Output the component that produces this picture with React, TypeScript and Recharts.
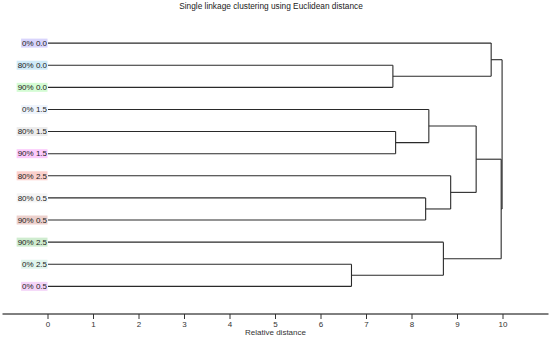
import React from 'react';
import { ComposedChart, XAxis, YAxis, Scatter, ReferenceLine } from 'recharts';

const leafLabels = ['0% 0.0', '80% 0.0', '90% 0.0', '0% 1.5', '80% 1.5', '90% 1.5', '80% 2.5', '80% 0.5', '90% 0.5', '90% 2.5', '0% 2.5', '0% 0.5'];
const leafColors = ['#d8d4fc', '#cfeaf8', '#d4fcd4', '#eef4fc', '#ececec', '#fccafc', '#fcd0cc', '#f4f4f4', '#ecd0cc', '#cfeccf', '#e0f4ec', '#f4d4f8'];
// merges: [left node, right node], new node ids start at 12
const mergeLeft = [1, 0, 4, 3, 7, 6, 15, 10, 9, 18, 13];
const mergeRight = [2, 12, 5, 14, 8, 16, 17, 11, 19, 20, 21];
const mergeHeights = [7.58, 9.74, 7.64, 8.37, 8.3, 8.85, 9.41, 6.67, 8.69, 9.96, 9.98];
const xTicks = [0, 1, 2, 3, 4, 5, 6, 7, 8, 9, 10];

const nodeY: number[] = leafLabels.map((_, i) => i);
const nodeH: number[] = leafLabels.map(() => 0);
type Seg = { x1: number; y1: number; x2: number; y2: number };
const segs: Seg[] = [];
mergeLeft.forEach((l, k) => {
  const r = mergeRight[k];
  const h = mergeHeights[k];
  segs.push({ x1: nodeH[l], y1: nodeY[l], x2: h, y2: nodeY[l] });
  segs.push({ x1: nodeH[r], y1: nodeY[r], x2: h, y2: nodeY[r] });
  segs.push({ x1: h, y1: nodeY[l], x2: h, y2: nodeY[r] });
  nodeY.push((nodeY[l] + nodeY[r]) / 2);
  nodeH.push(h);
});

const leafData = leafLabels.map((label, i) => ({ x: 0, y: i, label, color: leafColors[i] }));

const FS = 8;
const cw: Record<string, number> = { '%': 0.889, ' ': 0.278, '.': 0.278 };
const textW = (s: string) => s.split('').reduce((a, c) => a + (cw[c] ?? 0.556), 0) * FS;

const LeafLabel = (props: any) => {
  const { cx, cy, payload } = props;
  const w = textW(payload.label);
  const right = cx - 1;
  return (
    <g>
      <rect x={right - w - 1} y={cy - 4.5} width={w + 1.5} height={9} fill={payload.color} />
      <text x={right} y={cy} dy="0.35em" textAnchor="end" fontSize={FS} fontFamily="'Liberation Sans', Arial, sans-serif" fill="#222">
        {payload.label}
      </text>
    </g>
  );
};

export default function App() {
  return (
    <div style={{ position: 'absolute', left: 0, top: 0, width: 550, height: 338, background: '#fff' }}>
      <div style={{ position: 'absolute', left: 0, top: 1, width: 542, textAlign: 'center', fontFamily: "'Liberation Sans', Arial, sans-serif", fontSize: 8.3, lineHeight: '10px', color: '#222' }}>
        Single linkage clustering using Euclidean distance
      </div>
      <ComposedChart width={550} height={338} margin={{ top: 21, right: 1.5, left: 2.5, bottom: 0 }}>
        <XAxis
          type="number"
          dataKey="x"
          domain={[-1, 11]}
          ticks={xTicks}
          allowDataOverflow
          tickSize={5}
          axisLine={{ stroke: '#000' }}
          tickLine={{ stroke: '#333' }}
          tick={{ fontSize: 8, fill: '#333', fontFamily: "'Liberation Sans', Arial, sans-serif" }}
          height={24}
          label={{ value: 'Relative distance', position: 'insideBottom', offset: 3, fontSize: 8, fill: '#333', fontFamily: "'Liberation Sans', Arial, sans-serif" }}
        />
        <YAxis type="number" dataKey="y" domain={[-1, 12.25]} reversed hide allowDataOverflow />
        {segs.map((s, i) => (
          <ReferenceLine
            key={i}
            segment={[{ x: s.x1, y: s.y1 }, { x: s.x2, y: s.y2 }]}
            stroke="#2a2a2a"
            strokeWidth={1.1}
            ifOverflow="visible"
          />
        ))}
        <Scatter data={leafData} shape={LeafLabel} isAnimationActive={false} />
      </ComposedChart>
    </div>
  );
}
